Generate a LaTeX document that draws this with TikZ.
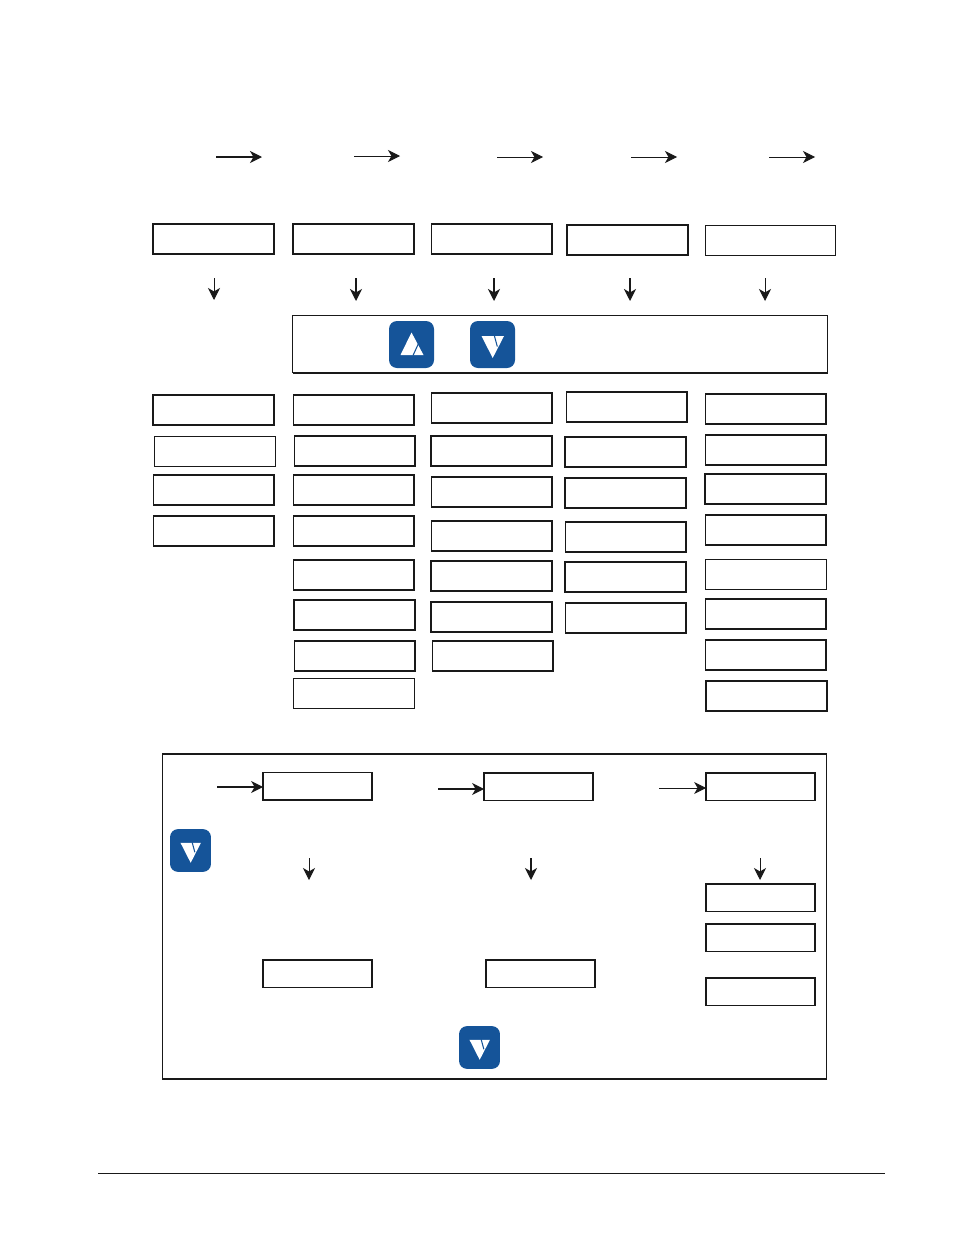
\documentclass[tikz,border=0pt]{standalone}
\usetikzlibrary{arrows.meta}

\definecolor{keyblue}{RGB}{21,84,153}

\tikzset{
  boxthin/.style={draw=black!90, line width=0.7pt, inner sep=0pt, outer sep=0pt, anchor=north west, xshift=0.4pt},
  boxmed/.style={boxthin, line width=1.1pt},
  boxthick/.style={boxthin, line width=1.5pt, xshift=-0.3pt},
  wide/.style={minimum width=90.5pt, minimum height=22.5pt},
  narrow/.style={minimum width=81.75pt, minimum height=20.5pt, xshift=-0.3pt},
  flow/.style={draw=black!90, line width=1pt, -{Stealth[length=9pt, width=9pt, inset=2.6pt]}},
  flowthin/.style={flow, line width=0.7pt},
  pics/keyup/.style={code={
    \fill[keyblue, rounded corners=6pt] (-22.5,-23.5) rectangle (22.5,23.5);
    \fill[white] (0,-12) -- (-11,10.5) -- (12,10.5) -- cycle;
    \draw[keyblue, line width=0.8pt] (7,-1) -- (1.5,11);
  }},
  pics/keydown/.style={code={
    \fill[keyblue, rounded corners=6pt] (-22.5,-23.5) rectangle (22.5,23.5);
    \fill[white] (-11,-8.5) -- (11.5,-8.5) -- (0.2,13.5) -- cycle;
    \draw[keyblue, line width=0.8pt] (1.8,-9) -- (4.8,2);
  }},
}

\begin{document}
\begin{tikzpicture}[x=0.75pt, y=-0.75pt]
  \useasboundingbox (0,0) rectangle (954,1235);

  % headings row
  \foreach \n/\x/\y/\s in {1/153/224/boxthick, 2/293/224/boxthick, 3/431/224/boxmed, 4/567/225/boxthick}
    \node[\s, wide] (head\n) at (\x,\y) {};
  \node[boxthin, minimum width=97.5pt, minimum height=22.5pt] (head5) at (705,225.5) {};

  % arrows along the top
  \foreach \n/\x/\y/\s in {1/216/157/flow, 2/354/156/flowthin, 3/497/157/flowthin, 4/631/157/flowthin, 5/769/157/flowthin} {
    \coordinate (rstart\n) at (\x,\y);
    \coordinate (rend\n) at (\x+46,\y);
    \draw[\s] (rstart\n) -- (rend\n);
  }

  % arrows under the headings
  \foreach \n/\x/\e/\s in {1/214/300/flowthin, 2/356/301/flow, 3/494/301/flow, 4/630/301/flow, 5/765/301/flowthin} {
    \coordinate (dstart\n) at (\x,278);
    \coordinate (dend\n) at (\x,\e);
    \draw[\s] (dstart\n) -- (dend\n);
  }

  % keys panel
  \node[boxthin, minimum width=401.25pt, minimum height=43pt] (keypanel) at (292,315.5) {};
  \draw[black!90, line width=1.2pt] (keypanel.south west) -- (keypanel.south east);
  \pic at (411.5,344.5) {keyup};
  \pic at (492.5,344.5) {keydown};

  % first column
  \foreach \n/\x/\y/\s in {1/153/395/boxthick, 2/154/436/boxthin, 3/153/475/boxmed, 4/153/516/boxmed}
    \node[\s, wide] (cola\n) at (\x,\y) {};

  % second column
  \foreach \n/\x/\y/\s in {1/293/395/boxmed, 2/294/436/boxmed, 3/293/475/boxmed, 4/293/516/boxmed,
      5/293/560/boxmed, 6/294/600/boxthick, 7/294/641/boxmed, 8/293/678/boxthin}
    \node[\s, wide] (colb\n) at (\x,\y) {};

  % third column
  \foreach \n/\x/\y/\s in {1/431/393/boxmed, 2/431/436/boxthick, 3/431/477/boxmed, 4/431/521/boxmed,
      5/431/561/boxthick, 6/431/602/boxthick, 7/432/641/boxmed}
    \node[\s, wide] (colc\n) at (\x,\y) {};

  % fourth column
  \foreach \n/\x/\y/\s in {1/566/392/boxmed, 2/565/437/boxthick, 3/565/478/boxthick,
      4/565/522/boxmed, 5/565/562/boxthick, 6/565/603/boxmed}
    \node[\s, wide] (cold\n) at (\x,\y) {};

  % fifth column
  \foreach \n/\x/\y/\s in {1/705/394/boxmed, 2/705/435/boxmed, 3/705/474/boxthick, 4/705/515/boxmed,
      5/705/559/boxthin, 6/705/599/boxmed, 7/705/640/boxmed, 8/706/681/boxthick}
    \node[\s, wide] (cole\n) at (\x,\y) {};

  % lower frame
  \node[boxmed, minimum width=498pt, minimum height=243.75pt] (frame) at (162,754) {};

  \foreach \n/\x/\y/\s in {a/263/772.5/boxmed, b/484/773/boxmed, c/706/773/boxmed,
      d/263/960/boxmed, e/486/960/boxmed, f/706/884/boxmed, g/706/924/boxmed, h/706/978/boxmed}
    \node[\s, narrow] (low\n) at (\x,\y) {};

  \coordinate (lstarta) at (217,787);
  \coordinate (lstartb) at (438,789);
  \coordinate (lstartc) at (659,788);
  \draw[flow] (lstarta) -- (lowa.west |- lstarta);
  \draw[flow] (lstartb) -- (lowb.west |- lstartb);
  \draw[flowthin] (lstartc) -- (lowc.west |- lstartc);

  \foreach \n/\x/\s in {1/309/flowthin, 2/531/flow, 3/760/flowthin} {
    \coordinate (lowtop\n) at (\x,858);
    \coordinate (lowend\n) at (\x,880);
    \draw[\s] (lowtop\n) -- (lowend\n);
  }

  \pic[scale=0.91] at (190.5,850.5) {keydown};
  \pic[scale=0.91] at (479.5,1047.5) {keydown};

  % footer rule
  \draw[black!90, line width=0.7pt] (98,1173.5) -- (885,1173.5);
\end{tikzpicture}
\end{document}
